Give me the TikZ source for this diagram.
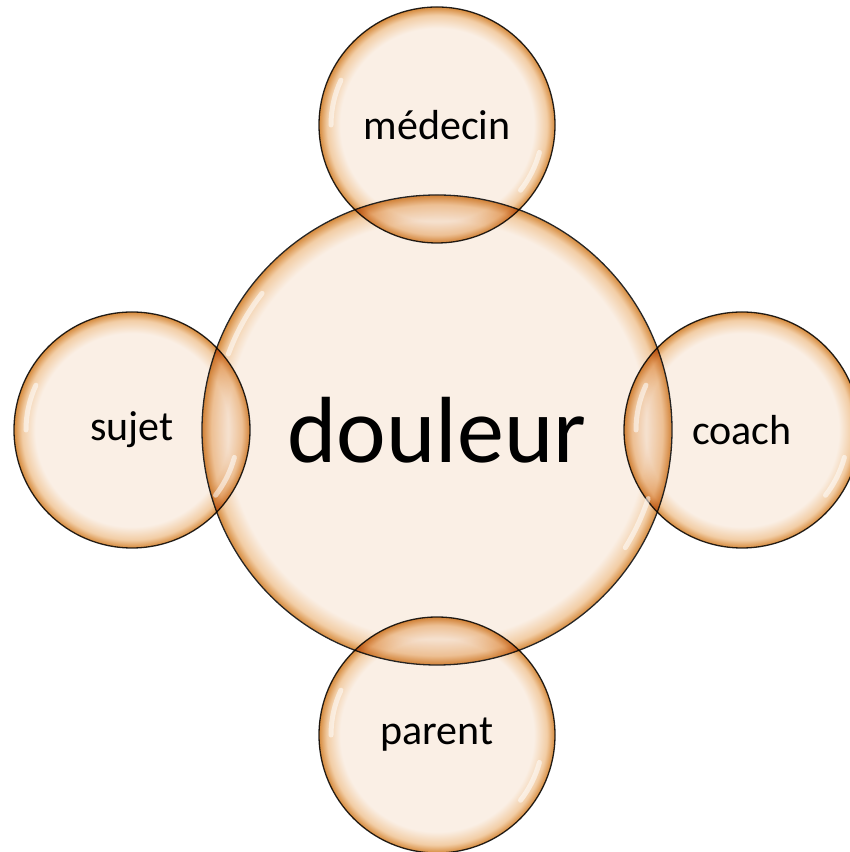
\documentclass[tikz,border=0pt]{standalone}
\usepackage{fontspec}
\setmainfont{Carlito}
\usetikzlibrary{positioning}
\definecolor{cream}{RGB}{250,239,229}
\definecolor{peach}{RGB}{242,205,165}
\definecolor{amber}{RGB}{214,138,60}
\pgfdeclareradialshading{hubshade}{\pgfpoint{0bp}{0bp}}{%
  color(0bp)=(cream); color(22.3bp)=(cream); color(24bp)=(peach);
  color(25bp)=(amber); color(50bp)=(amber)}
\pgfdeclareradialshading{satshade}{\pgfpoint{0bp}{0bp}}{%
  color(0bp)=(cream); color(20.5bp)=(cream); color(23.3bp)=(peach);
  color(25bp)=(amber); color(50bp)=(amber)}
\tikzset{
x=1bp, y=1bp,
node distance=305bp, % centre to centre
on grid,
hub/.style={circle, draw=black!85, line width=1.3bp, shading=hubshade,
  minimum size=470bp, inner sep=0pt, font=\fontsize{94bp}{100bp}\selectfont},
sat/.style={circle, draw=black!85, line width=1.3bp, shading=satshade,
  minimum size=236bp, inner sep=0pt, blend mode=multiply,
  font=\fontsize{42bp}{48bp}\selectfont},
gleam/.style={white, line width=5bp, line cap=round, opacity=0.55}
}

\begin{document}
\begin{tikzpicture}
   \useasboundingbox (0,0) rectangle (850,852);
   \node[hub] (doul) at (437,422) {douleur};
   \node[sat] (med) [above=of doul] {médecin};
   \node[sat] (suj) [left=of doul] {sujet};
   \node[sat] (coach) [right=of doul] {coach};
   \node[sat] (par) [below=of doul] {parent};
   % light on the rims
   \draw[gleam] ([shift={(142:222)}]doul.center) arc[start angle=142, end angle=160, radius=222];
   \draw[gleam] ([shift={(-18:222)}]doul.center) arc[start angle=-18, end angle=-32, radius=222];
   \foreach \n in {med,suj,coach,par}{
     \draw[gleam] ([shift={(155:106)}]\n.center) arc[start angle=155, end angle=180, radius=106];
     \draw[gleam] ([shift={(-15:106)}]\n.center) arc[start angle=-15, end angle=-38, radius=106];
   }
\end{tikzpicture}
\end{document}
